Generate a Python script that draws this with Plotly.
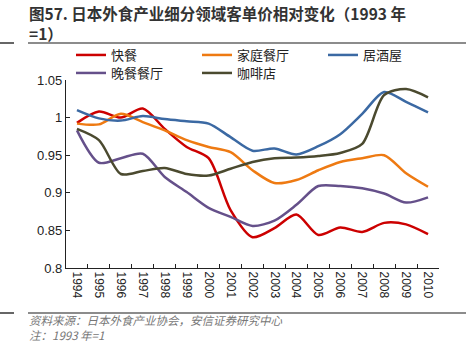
import plotly.graph_objects as go

years = [str(y) for y in range(1994, 2011)]

kuaican = [0.993, 1.008, 1.000, 1.012, 0.985, 0.961, 0.946, 0.877, 0.841, 0.853,
           0.871, 0.844, 0.854, 0.848, 0.860, 0.858, 0.845]
jiating = [0.992, 0.991, 1.005, 0.994, 0.983, 0.970, 0.961, 0.954, 0.930, 0.913,
           0.917, 0.930, 0.941, 0.946, 0.950, 0.926, 0.908]
jujiuwu = [1.010, 0.999, 0.996, 1.002, 0.998, 0.995, 0.992, 0.974, 0.956, 0.959,
           0.951, 0.962, 0.978, 1.005, 1.034, 1.021, 1.007]
wancan = [0.983, 0.940, 0.946, 0.952, 0.921, 0.901, 0.880, 0.868, 0.856, 0.863,
          0.884, 0.909, 0.909, 0.906, 0.899, 0.887, 0.894]
kafei = [0.985, 0.970, 0.925, 0.929, 0.933, 0.925, 0.923, 0.932, 0.941, 0.946,
         0.947, 0.949, 0.953, 0.965, 1.030, 1.038, 1.027]

# (name, values, colour, legend slot)
series = [
    ("快餐", kuaican, "#CC0000", "legend"),
    ("家庭餐厅", jiating, "#EE7A12", "legend2"),
    ("居酒屋", jujiuwu, "#3B69A3", "legend3"),
    ("晚餐餐厅", wancan, "#65508A", "legend4"),
    ("咖啡店", kafei, "#4B4A2F", "legend5"),
]

fig = go.Figure()
for name, vals, color, leg in series:
    fig.add_trace(go.Scatter(
        x=years, y=vals, name=name, mode="lines", legend=leg,
        line=dict(color=color, width=2.5, shape="spline", smoothing=0.8),
    ))

W, H = 470, 344
ml, mr, mt, mb = 66, 31, 80, 76
pw, ph = W - ml - mr, H - mt - mb


def px(x):
    return (x - ml) / pw


def py(y):
    return (H - mb - y) / ph


cjk = "Noto Sans CJK SC"
latin = "Liberation Sans, Arial, sans-serif"

legend_style = dict(
    orientation="v", xanchor="left", yanchor="top",
    font=dict(family=cjk, size=13, color="#222"),
    bgcolor="rgba(0,0,0,0)", itemwidth=30,
)
# two rows of legend entries, three columns
cols = [71, 197, 323]
rows = [40, 58]
slots = {
    "legend": (cols[0], rows[0]),
    "legend2": (cols[1], rows[0]),
    "legend3": (cols[2], rows[0]),
    "legend4": (cols[0], rows[1]),
    "legend5": (cols[1], rows[1]),
}
legends = {k: dict(x=px(cx), y=py(cy), **legend_style) for k, (cx, cy) in slots.items()}

fig.update_layout(
    width=W, height=H,
    margin=dict(l=ml, r=mr, t=mt, b=mb),
    paper_bgcolor="white", plot_bgcolor="white",
    showlegend=True,
    **legends,
    xaxis=dict(
        type="category", range=[-0.5, 16.5], tickson="boundaries",
        ticks="inside", ticklen=4, tickcolor="#222",
        showline=True, linecolor="#222", linewidth=1.2,
        showgrid=False, zeroline=False, tickangle=90,
        tickfont=dict(family=latin, size=12, color="#222"),
    ),
    yaxis=dict(
        range=[0.8, 1.05], dtick=0.05, tick0=0.8,
        ticks="inside", ticklen=4, tickcolor="#222",
        showline=True, linecolor="#222", linewidth=1.2,
        showgrid=False, zeroline=False,
        tickfont=dict(family=latin, size=13, color="#222"),
    ),
)

title_font = dict(family=cjk, size=15.5, color="#333")
fig.add_annotation(text="<b>图57. 日本外食产业细分领域客单价相对变化（1993 年</b>",
                   xref="paper", yref="paper", x=px(27), y=py(13),
                   xanchor="left", yanchor="middle", showarrow=False, font=title_font)
fig.add_annotation(text="<b>=1）</b>",
                   xref="paper", yref="paper", x=px(27), y=py(33),
                   xanchor="left", yanchor="middle", showarrow=False, font=title_font)

foot_font = dict(family=cjk, size=11.5, color="#777")
fig.add_annotation(text="<i>资料来源：日本外食产业协会，安信证券研究中心</i>",
                   xref="paper", yref="paper", x=px(27), y=py(320),
                   xanchor="left", yanchor="middle", showarrow=False, font=foot_font)
fig.add_annotation(text="<i>注：1993 年=1</i>",
                   xref="paper", yref="paper", x=px(27), y=py(335),
                   xanchor="left", yanchor="middle", showarrow=False, font=foot_font)

for yy in (43, 313):
    fig.add_shape(type="line", xref="paper", yref="paper",
                  x0=px(28), x1=px(466), y0=py(yy), y1=py(yy),
                  line=dict(color="#8C8C8C", width=2))
    fig.add_shape(type="line", xref="paper", yref="paper",
                  x0=px(0), x1=px(14), y0=py(yy), y1=py(yy),
                  line=dict(color="#333", width=1.5))

fig.write_html("out.html")
